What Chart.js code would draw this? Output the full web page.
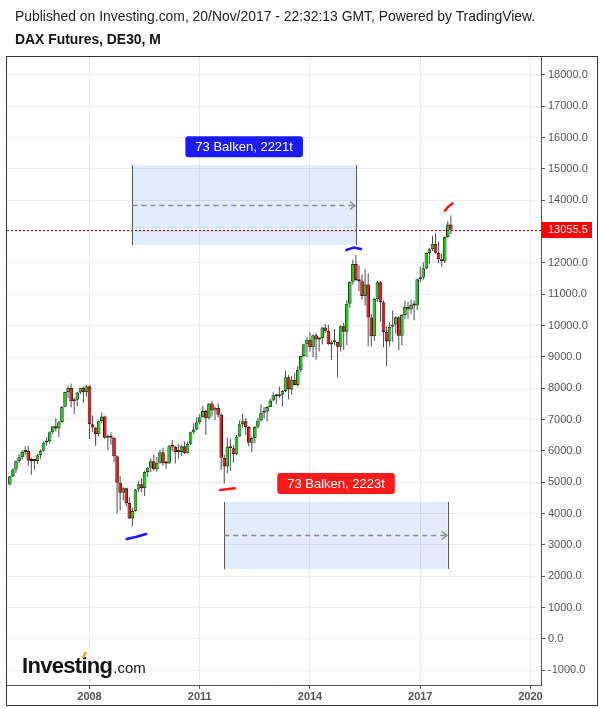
<!DOCTYPE html>
<html><head><meta charset="utf-8">
<script src="https://cdn.jsdelivr.net/npm/chart.js@4.4.0/dist/chart.umd.min.js"></script>
<style>
html,body{margin:0;padding:0;background:#fff;}
#wrap{position:relative;width:600px;height:708px;overflow:hidden;}
canvas{position:absolute;left:0;top:0;}
.t1{position:absolute;left:15px;top:8px;font:13.9px "Liberation Sans",Arial,sans-serif;color:#222;white-space:nowrap;z-index:2;}
.t2{position:absolute;left:15px;top:31px;font:bold 13.9px "Liberation Sans",Arial,sans-serif;color:#111;white-space:nowrap;z-index:2;}
</style></head>
<body><div id="wrap">
<canvas id="c" width="600" height="708"></canvas>
<div class="t1">Published on Investing.com, 20/Nov/2017 - 22:32:13 GMT, Powered by TradingView.</div>
<div class="t2">DAX Futures, DE30, M</div>
</div>
<script>
// ---------- data (monthly candles) ----------
const months = [
'2005-11','2005-12',
'2006-01','2006-02','2006-03','2006-04','2006-05','2006-06','2006-07','2006-08','2006-09','2006-10','2006-11','2006-12',
'2007-01','2007-02','2007-03','2007-04','2007-05','2007-06','2007-07','2007-08','2007-09','2007-10','2007-11','2007-12',
'2008-01','2008-02','2008-03','2008-04','2008-05','2008-06','2008-07','2008-08','2008-09','2008-10','2008-11','2008-12',
'2009-01','2009-02','2009-03','2009-04','2009-05','2009-06','2009-07','2009-08','2009-09','2009-10','2009-11','2009-12',
'2010-01','2010-02','2010-03','2010-04','2010-05','2010-06','2010-07','2010-08','2010-09','2010-10','2010-11','2010-12',
'2011-01','2011-02','2011-03','2011-04','2011-05','2011-06','2011-07','2011-08','2011-09','2011-10','2011-11','2011-12',
'2012-01','2012-02','2012-03','2012-04','2012-05','2012-06','2012-07','2012-08','2012-09','2012-10','2012-11','2012-12',
'2013-01','2013-02','2013-03','2013-04','2013-05','2013-06','2013-07','2013-08','2013-09','2013-10','2013-11','2013-12',
'2014-01','2014-02','2014-03','2014-04','2014-05','2014-06','2014-07','2014-08','2014-09','2014-10','2014-11','2014-12',
'2015-01','2015-02','2015-03','2015-04','2015-05','2015-06','2015-07','2015-08','2015-09','2015-10','2015-11','2015-12',
'2016-01','2016-02','2016-03','2016-04','2016-05','2016-06','2016-07','2016-08','2016-09','2016-10','2016-11','2016-12',
'2017-01','2017-02','2017-03','2017-04','2017-05','2017-06','2017-07','2017-08','2017-09','2017-10','2017-11'
];
const openP = [
4929,5193,
5408,5674,5796,5970,6009,5693,5683,5682,5860,6004,6269,6309,
6597,6789,6715,6917,7409,7883,8007,7584,7638,7862,8019,7871,
8067,6851,6748,6535,6949,7097,6418,6479,6422,5831,4988,4669,
4810,4338,3843,4085,4770,4941,4809,5332,5465,5675,5415,5625,
5957,5608,5598,6154,6136,5964,5966,6148,5925,6229,6601,6688,
6914,7077,7272,7041,7514,7294,7376,7159,5785,5502,6141,6089,
5898,6458,6856,6947,6761,6264,6416,6772,6971,7216,7260,7406,
7612,7776,7742,7795,7914,8349,7959,8276,8103,8594,9033,9406,
9552,9306,9692,9556,9603,9943,9833,9407,9470,9474,9327,9981,
9806,10694,11402,11966,11454,11413,10945,11309,10259,9660,10850,11382,
10743,9798,9495,9966,10039,10263,9680,10337,10593,10511,10665,10640,
11481,11535,11834,12313,12438,12615,12325,12118,12056,12829,13230
];
const highP = [
5210,5460,
5700,5900,6020,6140,6160,5780,5730,5900,6050,6300,6440,6630,
6800,7040,6960,7430,7890,8090,8150,7700,7880,8020,8050,8100,
8100,7130,6760,6970,7230,7120,6520,6600,6440,5860,5200,4850,
4830,4530,4190,4790,5050,5120,5370,5500,5760,5890,5800,6030,
6100,5670,6200,6340,6170,6230,6200,6300,6290,6620,6880,7080,
7180,7440,7310,7530,7600,7420,7520,7200,5880,6430,6390,6200,
6510,6970,7190,7050,6800,6460,6800,7060,7480,7400,7430,7670,
7870,7810,8060,7940,8560,8420,8400,8480,8700,9040,9420,9620,
9790,9720,9760,9630,9960,10050,10030,9530,9890,9480,10000,10090,
10810,11410,12100,12250,11920,11640,11800,11670,10360,10890,11430,11420,
10800,9980,10100,10480,10310,10300,10370,10800,10760,10830,10800,11490,
11890,12020,12320,12480,12860,12950,12680,12300,12840,13340,13525
];
const lowP = [
4900,5170,
5300,5620,5720,5860,5530,5240,5400,5580,5750,5980,6160,6240,
6530,6630,6440,6900,7390,7700,7390,7180,7420,7810,7530,7730,
6380,6600,6170,6470,6880,6380,6020,6200,5640,4010,4100,4430,
4230,3830,3588,4060,4690,4690,4560,5180,5330,5370,5340,5600,
5540,5430,5590,5990,5600,5760,5830,5900,5920,6190,6540,6650,
6850,7070,6510,7000,7100,6990,7060,5390,4965,5290,5370,5620,
5860,6450,6740,6510,6150,5970,6250,6720,6940,7040,6950,7400,
7590,7500,7690,7420,7880,7650,7790,8100,8050,8500,8990,9000,
9170,8990,8900,9170,9400,9770,9400,8900,9380,8350,9170,9220,
9380,10560,11300,11420,11100,10830,10640,9340,9330,9520,10760,10120,
9310,8700,9330,9480,9740,9210,9370,10220,10200,10380,10170,10500,
11390,11460,11800,11970,12380,12300,12000,11870,12000,12800,12920
];
const closeP = [
5193,5408,
5674,5796,5970,6009,5693,5683,5682,5860,6004,6269,6309,6597,
6789,6715,6917,7409,7883,8007,7584,7638,7862,8019,7871,8067,
6851,6748,6535,6949,7097,6418,6479,6422,5831,4988,4669,4810,
4338,3843,4085,4770,4941,4809,5332,5465,5675,5415,5625,5957,
5608,5598,6154,6136,5964,5966,6148,5925,6229,6601,6688,6914,
7077,7272,7041,7514,7294,7376,7159,5785,5502,6141,6089,5898,
6458,6856,6947,6761,6264,6416,6772,6971,7216,7260,7406,7612,
7776,7742,7795,7914,8349,7959,8276,8103,8594,9033,9406,9552,
9306,9692,9556,9603,9943,9833,9407,9470,9474,9327,9981,9806,
10694,11402,11966,11454,11413,10945,11309,10259,9660,10850,11382,10743,
9798,9495,9966,10039,10263,9680,10337,10593,10511,10665,10640,11481,
11535,11834,12313,12438,12615,12325,12118,12056,12829,13230,13055.5
];
const yTickValues = [-1000,0,1000,2000,3000,4000,5000,6000,7000,8000,9000,10000,11000,12000,13000,14000,15000,16000,17000,18000];
const xTickYears = [2008,2011,2014,2017,2020];
const lastPrice = 13055.5;

// measurement tool annotations (data units)
const measureFrom = ['2009-03','2011-09'];
const measureTo   = ['2015-04','2017-10'];
const measureLow  = [12570, 2234];
const measureHigh = [15120, 4371];
const measureText = ['73 Balken, 2221t','73 Balken, 2223t'];
// hand-drawn marks: [year, price] points
const markBlueLow  = [[2009.01,3191],[2009.28,3265],[2009.54,3350]];
const markBlueHigh = [[2014.99,12412],[2015.18,12490],[2015.39,12444]];
const markRedLow   = [[2011.55,4754],[2011.96,4809]];
const markRedHigh  = [[2017.67,13666],[2017.76,13794],[2017.88,13902]];

// ---------- build ----------
function monthToX(s){const p=s.split('-');return (+p[0])+((+p[1])-1)/12;}
const xs = months.map(monthToX);
const up = closeP.map((c,i)=>c>=openP[i]);
const bodies = months.map((m,i)=>({x:xs[i], y:[Math.min(openP[i],closeP[i]), Math.max(openP[i],closeP[i])]}));
const wicks  = months.map((m,i)=>({x:xs[i], y:[lowP[i], highP[i]]}));

const FONT = '"Liberation Sans", Arial, sans-serif';

const overlay = {
  id:'overlay',
  beforeDatasetsDraw(chart){
    const ctx=chart.ctx, X=chart.scales.x, Y=chart.scales.y;
    ctx.save();
    for(let k=0;k<measureFrom.length;k++){
      const x0=X.getPixelForValue(monthToX(measureFrom[k]));
      const x1=X.getPixelForValue(monthToX(measureTo[k]));
      const yt=Y.getPixelForValue(measureHigh[k]);
      const yb=Y.getPixelForValue(measureLow[k]);
      ctx.fillStyle='rgba(40,130,240,0.14)';
      ctx.fillRect(x0,yt,x1-x0,yb-yt);
      ctx.strokeStyle='#555'; ctx.lineWidth=1; ctx.setLineDash([]);
      ctx.beginPath();
      ctx.moveTo(Math.round(x0)+0.5,yt); ctx.lineTo(Math.round(x0)+0.5,yb);
      ctx.moveTo(Math.round(x1)+0.5,yt); ctx.lineTo(Math.round(x1)+0.5,yb);
      ctx.stroke();
      const ym=Math.round((yt+yb)/2)+0.5;
      ctx.strokeStyle='#8c8c8c'; ctx.lineWidth=1.5; ctx.setLineDash([5,4]);
      ctx.beginPath(); ctx.moveTo(x0,ym); ctx.lineTo(x1-2,ym); ctx.stroke();
      ctx.setLineDash([]);
      ctx.beginPath(); ctx.moveTo(x1-6,ym-4); ctx.lineTo(x1-1,ym); ctx.lineTo(x1-6,ym+4); ctx.stroke();
    }
    ctx.restore();
  },
  afterDatasetsDraw(chart){
    const ctx=chart.ctx, X=chart.scales.x, Y=chart.scales.y, A=chart.chartArea;
    ctx.save();
    // last price dotted line
    const yp=Math.round(Y.getPixelForValue(lastPrice))+0.5;
    ctx.strokeStyle='#d00000'; ctx.lineWidth=1; ctx.setLineDash([2,2]);
    ctx.beginPath(); ctx.moveTo(A.left,yp); ctx.lineTo(A.right,yp); ctx.stroke();
    ctx.setLineDash([]);
    // hand-drawn marks
    const marks=[[markBlueLow,'#1a1aff'],[markBlueHigh,'#1a1aff'],[markRedLow,'#ff1a1a'],[markRedHigh,'#ff1a1a']];
    ctx.lineCap='round'; ctx.lineJoin='round'; ctx.lineWidth=2.5;
    for(const [pts,col] of marks){
      ctx.strokeStyle=col; ctx.beginPath();
      pts.forEach((p,i)=>{const px=X.getPixelForValue(p[0]), py=Y.getPixelForValue(p[1]); if(i===0)ctx.moveTo(px,py); else ctx.lineTo(px,py);});
      ctx.stroke();
    }
    // measure labels
    const labelCols=['#1a1aff','#ff1a1a'];
    ctx.font='13px '+FONT;
    for(let k=0;k<measureFrom.length;k++){
      const x0=X.getPixelForValue(monthToX(measureFrom[k]));
      const x1=X.getPixelForValue(monthToX(measureTo[k]));
      const yt=Y.getPixelForValue(measureHigh[k]);
      const tw=ctx.measureText(measureText[k]).width;
      const w=tw+20, h=21, cx=(x0+x1)/2, by=yt-8;
      ctx.fillStyle=labelCols[k];
      ctx.beginPath();
      if(ctx.roundRect) ctx.roundRect(cx-w/2,by-h,w,h,3); else ctx.rect(cx-w/2,by-h,w,h);
      ctx.fill();
      ctx.fillStyle='#fff'; ctx.textAlign='center'; ctx.textBaseline='middle';
      ctx.fillText(measureText[k],cx,by-h/2+0.5);
    }
    ctx.restore();
  },
  afterDraw(chart){
    const ctx=chart.ctx, Y=chart.scales.y, A=chart.chartArea;
    ctx.save();
    // price tag
    const yp=Y.getPixelForValue(lastPrice);
    ctx.fillStyle='#ff0000';
    ctx.fillRect(A.right,Math.round(yp)-8,51,16);
    ctx.fillStyle='#fff'; ctx.font='11px '+FONT; ctx.textAlign='left'; ctx.textBaseline='middle';
    ctx.fillText(lastPrice.toFixed(1),A.right+7,yp+0.5);
    // logo
    ctx.textBaseline='alphabetic';
    ctx.font='bold 22px '+FONT;
    try{ctx.letterSpacing='-0.7px';}catch(e){}
    ctx.fillStyle='#151515';
    ctx.fillText('Investing',22,673);
    const w=ctx.measureText('Investing').width;
    const wi=ctx.measureText('Investi').width;
    try{ctx.letterSpacing='0px';}catch(e){}
    ctx.font='15px '+FONT;
    ctx.fillText('.com',22+w+1,673);
    // orange accent on the dot of the second "i"
    ctx.fillStyle='#f39c12';
    const ox=22+wi-5;
    ctx.beginPath(); ctx.moveTo(ox,658); ctx.lineTo(ox+2.5,652); ctx.lineTo(ox+5,652); ctx.lineTo(ox+2.5,658); ctx.closePath(); ctx.fill();
    // outer frame
    ctx.strokeStyle='#333'; ctx.lineWidth=1;
    ctx.strokeRect(6.5,56.5,591,649);
    ctx.restore();
  }
};

new Chart(document.getElementById('c'), {
  type:'bar',
  data:{datasets:[
    {label:'body', data:bodies,
     backgroundColor: up.map(u=>u?'#0ed40e':'#ee0f0f'),
     borderColor: up.map(u=>u?'#1a451a':'#550000'),
     borderWidth:1, borderSkipped:false, barThickness:3.6, grouped:false, minBarLength:2, inflateAmount:0, order:0},
    {label:'wick', data:wicks, backgroundColor:'#4d4d4d', borderWidth:0,
     barThickness:1, grouped:false, inflateAmount:0, order:1}
  ]},
  options:{
    responsive:false, animation:false, devicePixelRatio:1,
    layout:{padding:{left:7,top:57,right:3,bottom:3}},
    plugins:{legend:{display:false}, tooltip:{enabled:false}, title:{display:false}},
    scales:{
      x:{type:'linear', position:'bottom', min:2005.755, max:2020.286, offset:false,
         afterBuildTicks:s=>{s.ticks=xTickYears.map(v=>({value:v}));},
         afterFit:s=>{s.height=20;},
         grid:{color:'#ececec', offset:false, drawTicks:true, tickLength:4, tickColor:'#555'},
         border:{display:true,color:'#555',width:1},
         ticks:{autoSkip:false, maxRotation:0, padding:1, color:'#555', font:{family:FONT,size:11,weight:'bold'}, callback:v=>String(v)}},
      y:{type:'linear', position:'right', min:-1468, max:18571, beginAtZero:false,
         afterBuildTicks:s=>{s.ticks=yTickValues.map(v=>({value:v}));},
         afterFit:s=>{s.width=56;},
         grid:{color:'#ececec', drawTicks:true, tickLength:4, tickColor:'#555'},
         border:{display:true,color:'#555',width:1},
         ticks:{padding:3, color:'#555', font:{family:FONT,size:11}, callback:v=>Number(v).toFixed(1)}}
    }
  },
  plugins:[overlay]
});
</script>
</body></html>
